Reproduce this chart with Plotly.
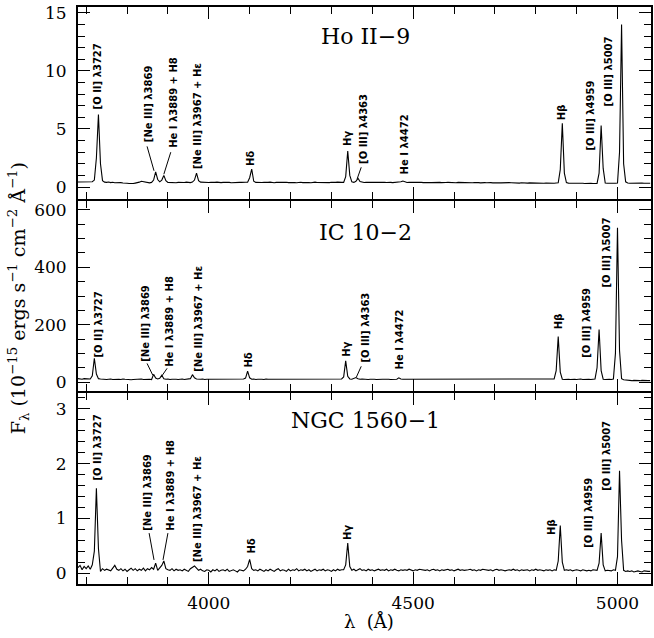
import plotly.graph_objects as go

# ---------------- data ----------------
# wavelength sampling grid (Angstrom), 5 A steps from 3680 to 5080
wavelength = list(range(3680, 5081, 5))

flux_ho_ii_9 = [
    0.44, 0.45, 0.42, 0.46, 0.44, 0.43, 0.45, 0.46, 0.60, 2.50,
    6.25, 2.00, 0.55, 0.42, 0.40, 0.43, 0.38, 0.41, 0.37, 0.39,
    0.36, 0.38, 0.35, 0.37, 0.33, 0.30, 0.27, 0.30, 0.34, 0.36,
    0.42, 0.50, 0.45, 0.40, 0.38, 0.36, 0.40, 0.60, 1.30, 0.65,
    0.45, 0.60, 1.00, 0.55, 0.40, 0.38, 0.41, 0.39, 0.37, 0.40,
    0.38, 0.41, 0.39, 0.42, 0.40, 0.38, 0.43, 0.60, 1.20, 0.55,
    0.42, 0.40, 0.38, 0.41, 0.39, 0.40, 0.37, 0.40, 0.42, 0.39,
    0.38, 0.40, 0.41, 0.38, 0.40, 0.37, 0.39, 0.41, 0.38, 0.40,
    0.40, 0.38, 0.41, 0.42, 0.80, 1.55, 0.50, 0.40, 0.38, 0.41,
    0.39, 0.41, 0.38, 0.40, 0.42, 0.39, 0.37, 0.40, 0.41, 0.38,
    0.40, 0.39, 0.41, 0.38, 0.40, 0.42, 0.39, 0.37, 0.40, 0.41,
    0.38, 0.40, 0.41, 0.39, 0.37, 0.40, 0.42, 0.39, 0.38, 0.40,
    0.41, 0.39, 0.40, 0.38, 0.41, 0.39, 0.40, 0.42, 0.38, 0.40,
    0.40, 0.90, 3.10, 1.00, 0.45, 0.40, 0.50, 0.75, 0.48, 0.40,
    0.39, 0.41, 0.40, 0.38, 0.40, 0.42, 0.39, 0.40, 0.41, 0.38,
    0.40, 0.39, 0.41, 0.40, 0.38, 0.40, 0.41, 0.39, 0.45, 0.52,
    0.42, 0.39, 0.40, 0.41, 0.38, 0.40, 0.39, 0.41, 0.40, 0.38,
    0.40, 0.41, 0.39, 0.38, 0.40, 0.42, 0.39, 0.40, 0.38, 0.41,
    0.39, 0.40, 0.38, 0.41, 0.39, 0.37, 0.40, 0.39, 0.38, 0.40,
    0.38, 0.40, 0.39, 0.37, 0.39, 0.41, 0.38, 0.36, 0.39, 0.38,
    0.37, 0.39, 0.38, 0.36, 0.38, 0.40, 0.37, 0.36, 0.38, 0.37,
    0.36, 0.38, 0.37, 0.35, 0.37, 0.36, 0.34, 0.37, 0.35, 0.36,
    0.34, 0.36, 0.35, 0.33, 0.35, 0.34, 0.32, 0.34, 0.33, 0.35,
    0.33, 0.34, 0.32, 0.33, 0.35, 0.36, 1.50, 5.50, 1.20, 0.38,
    0.34, 0.32, 0.33, 0.31, 0.32, 0.33, 0.30, 0.32, 0.31, 0.33,
    0.31, 0.32, 0.30, 0.33, 0.31, 1.20, 5.30, 1.60, 0.35, 0.32,
    0.31, 0.33, 0.30, 0.32, 0.35, 3.00, 14.00, 2.00, 0.45, 0.35,
    0.33, 0.34, 0.32, 0.33, 0.35, 0.32, 0.34, 0.33, 0.31, 0.34,
    0.33,
]

flux_ic_10_2 = [
    12, 11, 10, 12, 11, 10, 11, 22, 83, 28,
    12, 11, 10, 11, 9, 10, 11, 9, 10, 11,
    10, 9, 11, 10, 9, 10, 8, 9, 10, 11,
    10, 11, 9, 10, 11, 10, 9, 27, 14, 11,
    13, 24, 12, 10, 11, 9, 10, 11, 10, 9,
    10, 11, 9, 10, 11, 12, 26, 15, 11, 10,
    10, 11, 9, 10, 10, 11, 9, 10, 11, 10,
    9, 10, 11, 10, 9, 10, 11, 10, 9, 10,
    10, 11, 14, 38, 15, 10, 11, 9, 10, 11,
    10, 9, 11, 10, 10, 11, 9, 10, 11, 10,
    9, 10, 11, 10, 9, 11, 10, 10, 9, 11,
    10, 11, 9, 10, 11, 10, 9, 10, 11, 10,
    10, 9, 11, 10, 10, 11, 9, 10, 10, 11,
    18, 74, 20, 11, 10, 12, 16, 12, 10, 11,
    10, 11, 9, 10, 11, 10, 9, 10, 11, 10,
    10, 11, 10, 9, 10, 11, 10, 15, 11, 10,
    10, 9, 11, 10, 10, 9, 11, 10, 10, 9,
    11, 10, 9, 10, 11, 10, 10, 9, 11, 10,
    10, 9, 10, 11, 10, 9, 10, 10, 11, 9,
    10, 11, 10, 9, 10, 10, 11, 9, 10, 10,
    9, 10, 11, 10, 9, 10, 10, 11, 9, 10,
    10, 9, 10, 10, 11, 9, 10, 10, 9, 10,
    10, 10, 9, 11, 10, 9, 10, 10, 9, 10,
    10, 9, 10, 11, 40, 159, 35, 10, 9, 10,
    10, 9, 10, 10, 9, 10, 11, 9, 10, 10,
    10, 9, 10, 11, 50, 183, 40, 10, 9, 10,
    10, 9, 11, 100, 538, 110, 12, 8, 7, 6,
    6, 5, 6, 5, 4, 5, 6, 5, 4, 5,
    5,
]

flux_ngc_1560_1 = [
    0.10, 0.14, 0.06, 0.12, 0.08, 0.13, 0.07, 0.15, 0.40, 1.55,
    0.45, 0.03, 0.08, 0.05, 0.07, 0.06, 0.04, 0.09, 0.14, 0.07,
    0.05, 0.08, 0.04, 0.07, 0.03, 0.06, 0.09, 0.05, 0.08, 0.04,
    0.07, 0.05, 0.09, 0.04, 0.08, 0.06, 0.10, 0.07, 0.18, 0.05,
    0.09, 0.14, 0.22, 0.08, 0.06, 0.05, 0.08, 0.04, 0.07, 0.05,
    0.06, 0.04, 0.07, 0.05, 0.03, 0.08, 0.11, 0.13, 0.09, 0.05,
    0.07, 0.04, 0.03, 0.06, 0.05, 0.02, 0.06, 0.04, 0.07, 0.03,
    0.05, 0.06, 0.04, 0.07, 0.03, 0.05, 0.06, 0.04, 0.02, 0.06,
    0.05, 0.04, 0.07, 0.12, 0.25, 0.08, 0.05, 0.06, 0.04, 0.07,
    0.05, 0.03, 0.06, 0.04, 0.07, 0.05, 0.03, 0.06, 0.08, 0.04,
    0.06, 0.05, 0.03, 0.07, 0.04, 0.06, 0.05, 0.08, 0.04, 0.06,
    0.05, 0.07, 0.04, 0.06, 0.03, 0.05, 0.07, 0.04, 0.06, 0.05,
    0.07, 0.04, 0.06, 0.05, 0.03, 0.06, 0.04, 0.07, 0.05, 0.06,
    0.06, 0.15, 0.55, 0.12, 0.05, 0.07, 0.04, 0.06, 0.08, 0.05,
    0.06, 0.04, 0.07, 0.05, 0.06, 0.04, 0.05, 0.07, 0.05, 0.06,
    0.05, 0.07, 0.04, 0.06, 0.05, 0.07, 0.05, 0.04, 0.06, 0.05,
    0.06, 0.05, 0.07, 0.05, 0.04, 0.06, 0.05, 0.07, 0.06, 0.05,
    0.05, 0.06, 0.04, 0.06, 0.07, 0.05, 0.06, 0.04, 0.06, 0.05,
    0.06, 0.07, 0.05, 0.06, 0.04, 0.06, 0.07, 0.05, 0.06, 0.05,
    0.05, 0.06, 0.07, 0.05, 0.06, 0.04, 0.06, 0.05, 0.07, 0.06,
    0.06, 0.05, 0.06, 0.04, 0.06, 0.07, 0.05, 0.06, 0.05, 0.04,
    0.05, 0.06, 0.05, 0.07, 0.05, 0.06, 0.04, 0.06, 0.05, 0.06,
    0.06, 0.04, 0.06, 0.05, 0.07, 0.05, 0.06, 0.05, 0.04, 0.06,
    0.05, 0.06, 0.04, 0.06, 0.05, 0.22, 0.87, 0.20, 0.05, 0.06,
    0.05, 0.06, 0.04, 0.05, 0.06, 0.05, 0.04, 0.06, 0.05, 0.04,
    0.05, 0.04, 0.06, 0.05, 0.05, 0.18, 0.73, 0.15, 0.04, 0.05,
    0.05, 0.04, 0.06, 0.05, 0.30, 1.87, 0.60, 0.05, 0.03, 0.04,
    0.03, 0.04, 0.02, 0.03, 0.04, 0.03, 0.02, 0.04, 0.03, 0.03,
    0.03,
]

panel_names = ["Ho II\u22129", "IC 10\u22122", "NGC 1560\u22121"]

line_label_texts = {
    "OII3727": "[O II] \u03bb3727",
    "NeIII3869": "[Ne III] \u03bb3869",
    "HeI3889": "He I \u03bb3889 + H8",
    "NeIII3967": "[Ne III] \u03bb3967 + H\u03b5",
    "Hd": "H\u03b4",
    "Hg": "H\u03b3",
    "OIII4363": "[O III] \u03bb4363",
    "HeI4472": "He I \u03bb4472",
    "Hb": "H\u03b2",
    "OIII4959": "[O III] \u03bb4959",
    "OIII5007": "[O III] \u03bb5007",
}

y_tick_steps = [5, 200, 1]
y_minor_steps = [1, 50, 0.2]

# ---------------- layout / placement ----------------
W, H = 654, 638
ML, MR, MT, MB = 78, 1, 7, 54
PH = H - MT - MB  # plot-area height in px


def py2paper(py):
    return (H - MB - py) / PH


spectra = [flux_ho_ii_9, flux_ic_10_2, flux_ngc_1560_1]
y_ranges = [[-1.03, 15.5], [-31, 631], [-0.2, 3.29]]
# panel pixel extents (top, bottom); 2 px gaps so shared frame lines coincide
panel_px = [(7, 199), (201, 391), (393, 584)]
domains = [[py2paper(b), py2paper(t)] for t, b in panel_px]
title_py = [36, 232, 420]

# label placements: key, x (A), y of text bottom (panel units)
label_places = [
    [("OII3727", 3727, 6.7), ("NeIII3869", 3851, 3.9), ("HeI3889", 3912, 3.4),
     ("NeIII3967", 3971, 1.55), ("Hd", 4102, 1.8), ("Hg", 4341, 3.5),
     ("OIII4363", 4380, 2.0), ("HeI4472", 4478, 1.1), ("Hb", 4863, 5.8),
     ("OIII4959", 4934, 3.1), ("OIII5007", 4978, 6.9)],
    [("OII3727", 3729, 86), ("NeIII3869", 3846, 72), ("HeI3889", 3905, 55),
     ("NeIII3967", 3973, 35), ("Hd", 4098, 52), ("Hg", 4337, 88),
     ("OIII4363", 4383, 69), ("HeI4472", 4466, 45), ("Hb", 4856, 183),
     ("OIII4959", 4924, 86), ("OIII5007", 4973, 331)],
    [("OII3727", 3729, 1.69), ("NeIII3869", 3851, 0.78), ("HeI3889", 3907, 0.78),
     ("NeIII3967", 3971, 0.2), ("Hd", 4105, 0.36), ("Hg", 4339, 0.6),
     ("Hb", 4839, 0.69), ("OIII4959", 4929, 0.47), ("OIII5007", 4973, 1.51)],
]
leader_lines = [
    [(3849, 3.5, 3866, 1.4), (3907, 3.0, 3890, 1.1), (4373, 1.7, 4363, 0.7)],
    [(3849, 65, 3863, 24), (3898, 48, 3883, 17), (4373, 55, 4361, 17)],
    [(3854, 0.73, 3866, 0.24), (3900, 0.73, 3888, 0.24)],
]

fig = go.Figure()
annotations = []
shapes = []
serif = "DejaVu Serif"

for i in range(3):
    n = "" if i == 0 else str(i + 1)
    xa, ya = "x" + n, "y" + n
    fig.add_trace(go.Scatter(
        x=wavelength, y=spectra[i], mode="lines",
        line=dict(color="black", width=1.1),
        xaxis=xa, yaxis=ya, showlegend=False, hoverinfo="skip"))

    common_ticks = dict(ticks="inside", tickcolor="black", tickwidth=1,
                        showline=True, linecolor="black", linewidth=2,
                        mirror="allticks", showgrid=False, zeroline=False)
    fig.layout["xaxis" + n] = dict(
        range=[3680, 5082], domain=[0, 1], anchor=ya,
        tick0=0, dtick=500, ticklen=12,
        minor=dict(dtick=100, tick0=0, ticklen=7, ticks="inside",
                   tickcolor="black", tickwidth=1, showgrid=False),
        showticklabels=(i == 2), ticklabelstandoff=3,
        tickfont=dict(family=serif, size=17, color="black"),
        **common_ticks)
    if i > 0:
        fig.layout["xaxis" + n]["matches"] = "x"
    fig.layout["yaxis" + n] = dict(
        range=y_ranges[i], domain=domains[i], anchor=xa,
        tick0=0, dtick=y_tick_steps[i], ticklen=12,
        minor=dict(dtick=y_minor_steps[i], tick0=0, ticklen=7, ticks="inside",
                   tickcolor="black", tickwidth=1, showgrid=False),
        ticklabelstandoff=6,
        tickfont=dict(family=serif, size=17, color="black"),
        **common_ticks)

    annotations.append(dict(
        text=panel_names[i], xref="paper", yref="paper",
        x=(367 - ML) / (W - ML - MR), y=py2paper(title_py[i]),
        xanchor="center", yanchor="middle",
        showarrow=False, font=dict(family=serif, size=22, color="black")))

    for key, lx, ly in label_places[i]:
        annotations.append(dict(
            text=line_label_texts[key], xref=xa, yref=ya, x=lx, y=ly,
            xanchor="center", yanchor="bottom", textangle=-90,
            showarrow=False, borderpad=0, borderwidth=0,
            font=dict(family="DejaVu Sans", size=10, color="black", weight="bold")))
    for x0, y0, x1, y1 in leader_lines[i]:
        shapes.append(dict(type="line", xref=xa, yref=ya, x0=x0, y0=y0,
                           x1=x1, y1=y1, line=dict(color="black", width=1)))

annotations.append(dict(
    text="F<sub>\u03bb</sub> (10<sup>\u221215</sup> ergs s<sup>\u22121</sup> "
         "cm<sup>\u22122</sup> \u00c5<sup>\u22121</sup>)",
    xref="paper", yref="paper", x=(18 - ML) / (W - ML - MR), y=py2paper(298),
    xanchor="center", yanchor="middle", textangle=-90, showarrow=False,
    font=dict(family=serif, size=19, color="black")))
annotations.append(dict(
    text="\u03bb  (\u00c5)", xref="paper", yref="paper",
    x=(370 - ML) / (W - ML - MR), y=py2paper(622),
    xanchor="center", yanchor="middle", showarrow=False,
    font=dict(family=serif, size=18, color="black")))

fig.update_layout(
    width=W, height=H, autosize=False,
    margin=dict(l=ML, r=MR, t=MT, b=MB),
    paper_bgcolor="white", plot_bgcolor="white",
    annotations=annotations, shapes=shapes, showlegend=False)

fig.write_html("out.html",
               config={"displayModeBar": False, "staticPlot": True},
               post_script="document.body.style.margin='0';"
                           "document.body.style.overflow='hidden';")
